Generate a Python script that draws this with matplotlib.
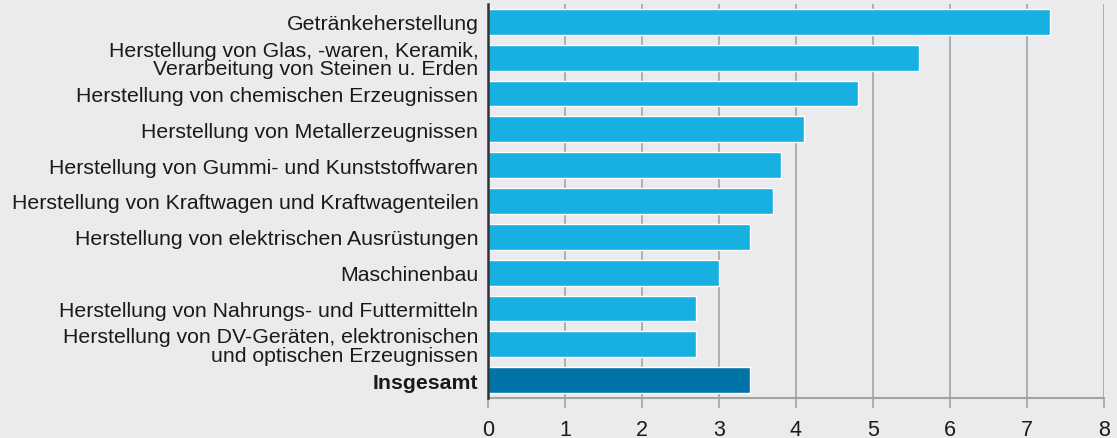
import matplotlib.pyplot as plt
import numpy as np

labels = [
    'Getränkeherstellung',
    'Herstellung von Glas, -waren, Keramik,\nVerarbeitung von Steinen u. Erden',
    'Herstellung von chemischen Erzeugnissen',
    'Herstellung von Metallerzeugnissen',
    'Herstellung von Gummi- und Kunststoffwaren',
    'Herstellung von Kraftwagen und Kraftwagenteilen',
    'Herstellung von elektrischen Ausrüstungen',
    'Maschinenbau',
    'Herstellung von Nahrungs- und Futtermitteln',
    'Herstellung von DV-Geräten, elektronischen\nund optischen Erzeugnissen',
    'Insgesamt',
]
values = [7.3, 5.6, 4.8, 4.1, 3.8, 3.7, 3.4, 3.0, 2.7, 2.7, 3.4]
xticks = [0, 1, 2, 3, 4, 5, 6, 7, 8]

bg = '#ebebed'
light = '#17b0e0'
dark = '#0073a9'

plt.rcParams['font.family'] = ['Liberation Sans', 'DejaVu Sans']

fig = plt.figure(figsize=(11.17, 4.39), dpi=100, facecolor=bg)
ax = fig.add_axes([488 / 1117, 1 - 399 / 439, (1104 - 488) / 1117, 394 / 439])
ax.set_facecolor(bg)

y = np.arange(len(values))
colors = [light] * (len(values) - 1) + [dark]
ax.barh(y, values, height=0.72, color=colors, edgecolor='white', linewidth=1, zorder=3)

ax.set_ylim(len(values) - 0.5, -0.5)
ax.set_xlim(0, 8)
ax.set_xticks(xticks)
ax.set_xticklabels([str(t) for t in xticks], fontsize=15.5, color='#1a1a1a')
ax.set_yticks(y)
ax.set_yticklabels(labels, fontsize=15.3, color='#1a1a1a', linespacing=0.95)
ax.get_yticklabels()[-1].set_fontweight('bold')

ax.xaxis.grid(True, color='#a3a3a3', linewidth=1.2, zorder=0)
ax.tick_params(axis='x', length=7, color='#a3a3a3', width=1.2, pad=8)
ax.tick_params(axis='y', length=0, pad=7)

for s in ['top', 'right']:
    ax.spines[s].set_visible(False)
ax.spines['bottom'].set_color('#a3a3a3')
ax.spines['bottom'].set_linewidth(1.5)
ax.spines['left'].set_color('#333333')
ax.spines['left'].set_linewidth(1.8)
ax.spines['left'].set_zorder(4)

fig.savefig('out.png', dpi=100, facecolor=bg)
